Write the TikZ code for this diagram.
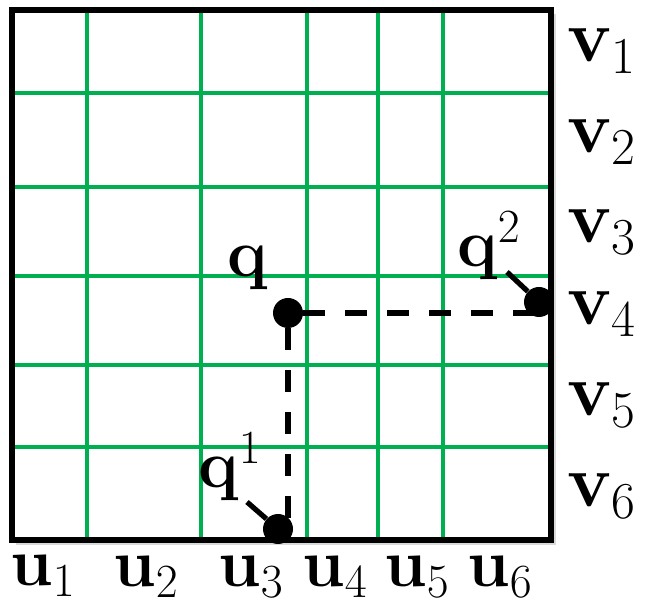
\RequirePackage{fix-cm}
\documentclass[tikz,border=0pt]{standalone}
\usepackage{amsmath,amssymb}
\usepackage{bm}
\usepackage{tikz}
\usetikzlibrary{positioning, calc}

\definecolor{gridgreen}{RGB}{0,176,80}

\begin{document}
\begin{tikzpicture}[
				x=0.5pt, y=-0.5pt,
				frame/.style={draw=black, line width=2.6pt},
				gridline/.style={draw=gridgreen, line width=2.4pt},
				dot/.style={circle, fill=black, inner sep=0pt, minimum size=15pt},
				dashedline/.style={line width=3.2pt, dash pattern=on 11pt off 10pt},
				leader/.style={line width=2.6pt},
				ulabel/.style={anchor=base west, inner sep=0pt, font=\fontsize{34}{40}\selectfont},
				vlabel/.style={anchor=base west, inner sep=0pt, font=\fontsize{37}{44}\selectfont},
				qlabel/.style={anchor=base west, inner sep=0pt, font=\fontsize{34}{40}\selectfont}
				]
				\useasboundingbox (0,0) rectangle (648,608);
				
				% --- Frame with soft shadow ---
				\fill[black, opacity=0.15] (16,14) rectangle (556,545);
				\fill[white] (12,10) rectangle (551,540);
				
				% --- Grid lines ---
				\draw[gridline] (87,10) -- (87,540);
				\draw[gridline] (201,10) -- (201,540);
				\draw[gridline] (307,10) -- (307,540);
				\draw[gridline] (378,10) -- (378,540);
				\draw[gridline] (443,10) -- (443,540);
				\draw[gridline] (12,93) -- (551,93);
				\draw[gridline] (12,187) -- (551,187);
				\draw[gridline] (12,276) -- (551,276);
				\draw[gridline] (12,365) -- (551,365);
				\draw[gridline] (12,447) -- (551,447);
				\draw[frame] (12,10) rectangle (551,540);
				
				% --- Query point and its projections ---
				\node[dot] (q) at (288,313) {};
				\node[dot] (qtwo) at (539,302) {};
				\node[dot] (qone) at (278,529) {};
				\draw[dashedline] (q) -- (q -| qtwo);
				\draw[dashedline] (q) -- (q |- qone);
				
				\node[qlabel] (qlab) at (227,277) {$\mathbf{q}$};
				\node[qlabel] (qtwolab) at (457,267) {$\mathbf{q}^2$};
				\node[qlabel] (qonelab) at (198,488) {$\mathbf{q}^1$};
				\coordinate (qtwoend) at (507,272);
				\coordinate (qoneend) at (247,502);
				\draw[leader] (qtwoend) -- (qtwo);
				\draw[leader] (qoneend) -- (qone);
				
				% --- Right: row labels ---
				\node[vlabel] (v1) at (567,62) {$\mathbf{v}_1$};
				\node[vlabel] (v2) at (567,153) {$\mathbf{v}_2$};
				\node[vlabel] (v3) at (567,243) {$\mathbf{v}_3$};
				\node[vlabel] (v4) at (567,325) {$\mathbf{v}_4$};
				\node[vlabel] (v5) at (567,416) {$\mathbf{v}_5$};
				\node[vlabel] (v6) at (567,507) {$\mathbf{v}_6$};
				
				% --- Bottom: column labels ---
				\node[ulabel] (u1) at (10,586) {$\mathbf{u}_1$};
				\node[ulabel] (u2) at (113,587) {$\mathbf{u}_2$};
				\node[ulabel] (u3) at (218,587) {$\mathbf{u}_3$};
				\node[ulabel] (u4) at (302,587) {$\mathbf{u}_4$};
				\node[ulabel] (u5) at (384,587) {$\mathbf{u}_5$};
				\node[ulabel] (u6) at (467,587) {$\mathbf{u}_6$};
			\end{tikzpicture}
\end{document}
